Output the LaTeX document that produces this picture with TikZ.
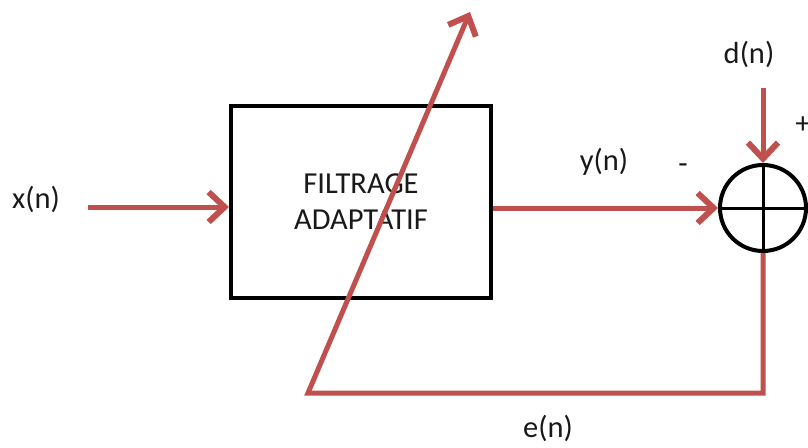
\documentclass[tikz,border=0pt]{standalone}
\usepackage{fontspec}
\setmainfont{Carlito}
\usetikzlibrary{arrows.meta,positioning}
\definecolor{sigred}{RGB}{192,80,77}

\tikzset{
  sig/.style={draw=sigred,line width=5pt,-{Straight Barb[length=16pt,width=30pt,line width=6pt]}},
  lbl/.style={font=\fontsize{30.5}{36}\selectfont,text=black!90}
}

\begin{document}
\begin{tikzpicture}[x=1pt,y=-1pt]
\useasboundingbox (0,0) rectangle (808,447);
    \node [draw,line width=4pt,minimum width=260pt,minimum height=192pt,
           align=center,lbl,inner sep=0pt] (box) at (361,202)
           {FILTRAGE\\[0pt]ADAPTATIF};
    \node [draw,circle,line width=4pt,minimum size=86pt,inner sep=0pt] (sum) at (763,208) {};
    \draw [line width=3pt] (sum.north)--(sum.south) (sum.west)--(sum.east);
    \coordinate (xin) at (88,207);
    \coordinate (din) at (763,88);
    \coordinate (fb) at (308,393);
    \coordinate (tip) at (470,12);
    \node [lbl] (xlbl) at (36,199) {x(n)};
    \node [lbl] (ylbl) at (604,162) {y(n)};
    \node [lbl] (dlbl) at (749,54) {d(n)};
    \node [lbl] (elbl) at (548,428) {e(n)};
    \node [lbl] (minus) at (683,169) {-};
    \node [lbl] (plus) at (803,125) {+};
    % signal paths
    \draw [sig] (xin) -- (xin -| box.west);
    \draw [sig] (box.east |- sum) -- (sum.west);
    \draw [sig] (din) -- (sum.north);
    \draw [sig,line join=miter] (sum.south) |- (fb) -- (tip);
\end{tikzpicture}
\end{document}
